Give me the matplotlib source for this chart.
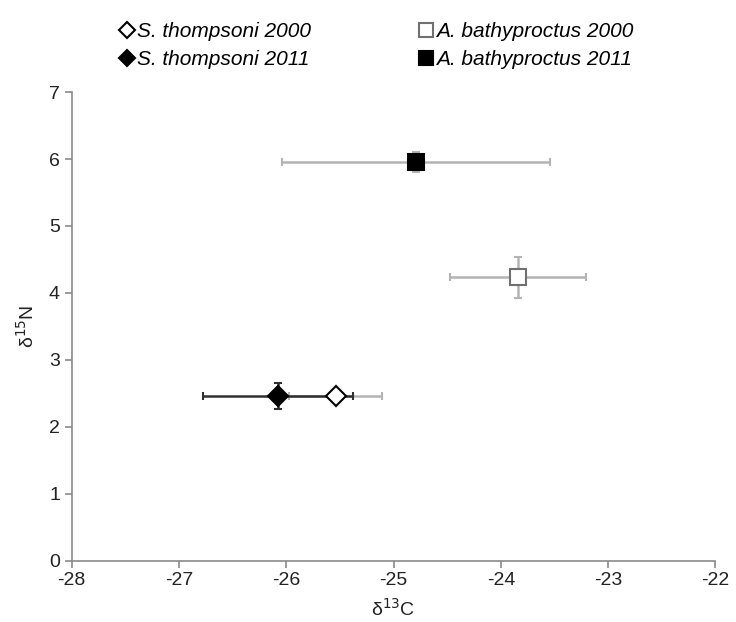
import matplotlib.pyplot as plt
from matplotlib.lines import Line2D

plt.rcParams['font.family'] = ['Liberation Sans', 'DejaVu Sans']
plt.rcParams['axes.unicode_minus'] = False

# mean values and errors
labels = ['S. thompsoni 2000', 'S. thompsoni 2011',
          'A. bathyproctus 2000', 'A. bathyproctus 2011']
d13c = [-25.54, -26.08, -23.84, -24.79]
d15n = [2.46, 2.46, 4.23, 5.95]
d13c_err = [0.43, 0.70, 0.63, 1.25]
d15n_err = [0.0, 0.19, 0.30, 0.15]

markers = ['D', 'D', 's', 's']
faces = ['white', 'black', 'white', 'black']
edges = ['black', 'black', '#707070', 'black']
bar_colors = ['#b4b4b4', '#303030', '#b4b4b4', '#b4b4b4']
sizes = [10, 10, 12, 12]

fig = plt.figure(figsize=(7.36, 6.22), dpi=100)
ax = fig.add_axes([0.0974, 0.0986, 0.8746, 0.7534])

# draw the gray bars first so the black one sits on top
order = [0, 2, 3, 1]
for i in order:
    ax.errorbar(d13c[i], d15n[i], xerr=d13c_err[i],
                yerr=d15n_err[i] if d15n_err[i] > 0 else None,
                fmt='none', ecolor=bar_colors[i], elinewidth=1.8,
                capsize=3, capthick=1.5, zorder=2)
for i in order:
    ax.plot(d13c[i], d15n[i], marker=markers[i], markersize=sizes[i],
            markerfacecolor=faces[i], markeredgecolor=edges[i],
            markeredgewidth=1.5, linestyle='none', zorder=3)

ax.set_xlim(-28, -22)
ax.set_ylim(0, 7)
ax.set_xticks(range(-28, -21))
ax.set_yticks(range(0, 8))
for s in ['top', 'right']:
    ax.spines[s].set_visible(False)
for s in ['left', 'bottom']:
    ax.spines[s].set_color('#8a8a8a')
    ax.spines[s].set_linewidth(1.2)
ax.tick_params(colors='#8a8a8a', labelcolor='#222222', labelsize=14,
               length=5, width=1.2)

ax.set_xlabel('δ$^{13}$C', fontsize=14, color='#222222', labelpad=6)
ax.set_ylabel('δ$^{15}$N', fontsize=14, color='#222222', labelpad=8)

handles = [Line2D([], [], marker=markers[i], markersize=sizes[i] * 0.8,
                  markerfacecolor=faces[i], markeredgecolor=edges[i],
                  markeredgewidth=1.5, linestyle='none')
           for i in range(4)]
fig.legend(handles, labels, ncol=2, loc='upper left',
           bbox_to_anchor=(0.138, 0.995), frameon=False,
           prop={'style': 'italic', 'size': 15},
           handlelength=0.6, handletextpad=0.2, columnspacing=5.2,
           labelspacing=0.45)

fig.savefig('out.png', dpi=100)
